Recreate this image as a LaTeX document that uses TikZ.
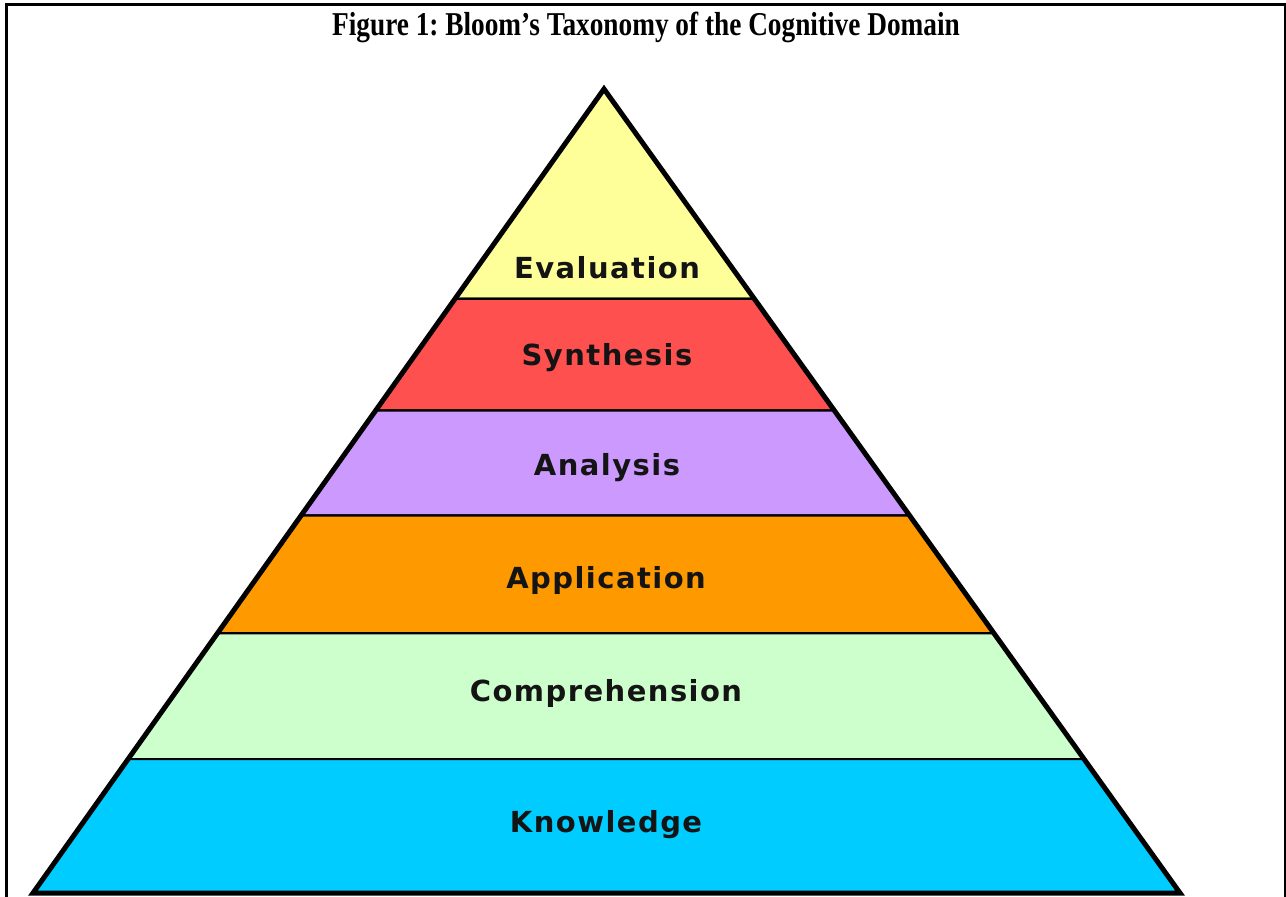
\documentclass[tikz,border=0pt]{standalone}
\usepackage{fontspec}
\setmainfont{Liberation Serif}
\newfontfamily\layerfont[LetterSpace=5]{DejaVu Sans}
\usetikzlibrary{calc}
\frenchspacing
\definecolor{evalyellow}{HTML}{FFFF99}
\definecolor{synthred}{HTML}{FF5050}
\definecolor{analpurple}{HTML}{CC99FF}
\definecolor{applorange}{HTML}{FF9900}
\definecolor{comprgreen}{HTML}{CCFFCC}
\definecolor{knowcyan}{HTML}{00CCFF}
\begin{document}
\begin{tikzpicture}[x=1pt,y=-1pt,
           band_style/.style={draw=black,line width=2.2pt,line join=miter},
           edge_style/.style={draw=black,line width=5pt,line join=miter},
           label_style/.style={anchor=base,font=\layerfont\bfseries\fontsize{29}{31}\selectfont,text=black!92},
           title_style/.style={anchor=base,font=\bfseries\fontsize{27.3}{30}\selectfont}]
            \useasboundingbox (0,0) rectangle (1286,897);
            \draw[line width=2.5pt] (6.7,897) |- (1285.5,4.3) -- (1285.5,897);
            \node[title_style] (title) at (646, 35)  {\scalebox{1}[1.22]{Figure 1: Bloom’s Taxonomy of the Cognitive Domain}};
            % pyramid corners
            \coordinate (apex) at (604, 89);
            \coordinate (bl) at (33, 893);
            \coordinate (br) at (1180, 893);
            % band boundaries
            \foreach \name/\t in {a/0.2609, b/0.4, c/0.5304, d/0.677, e/0.8335} {
                \coordinate (l\name) at ($(apex)!\t!(bl)$);
                \coordinate (r\name) at ($(apex)!\t!(br)$);
            }
            \filldraw[band_style,fill=evalyellow]  (apex) -- (ra) -- (la) -- cycle;
            \filldraw[band_style,fill=synthred]    (la) -- (ra) -- (rb) -- (lb) -- cycle;
            \filldraw[band_style,fill=analpurple]  (lb) -- (rb) -- (rc) -- (lc) -- cycle;
            \filldraw[band_style,fill=applorange]  (lc) -- (rc) -- (rd) -- (ld) -- cycle;
            \filldraw[band_style,fill=comprgreen]  (ld) -- (rd) -- (re) -- (le) -- cycle;
            \filldraw[band_style,fill=knowcyan]    (le) -- (re) -- (br) -- (bl) -- cycle;
            \draw[edge_style] (apex) -- (br) -- (bl) -- cycle;
            % labels
            \node[label_style] (evaluation) at (607, 278)  {Evaluation};
            \node[label_style] (synthesis) at (607, 365)  {Synthesis};
            \node[label_style] (analysis) at (607, 475)  {Analysis};
            \node[label_style] (application) at (606, 588)  {Application};
            \node[label_style] (comprehension) at (606, 701)  {Comprehension};
            \node[label_style] (knowledge) at (606, 832)  {Knowledge};
        \end{tikzpicture}
\end{document}
